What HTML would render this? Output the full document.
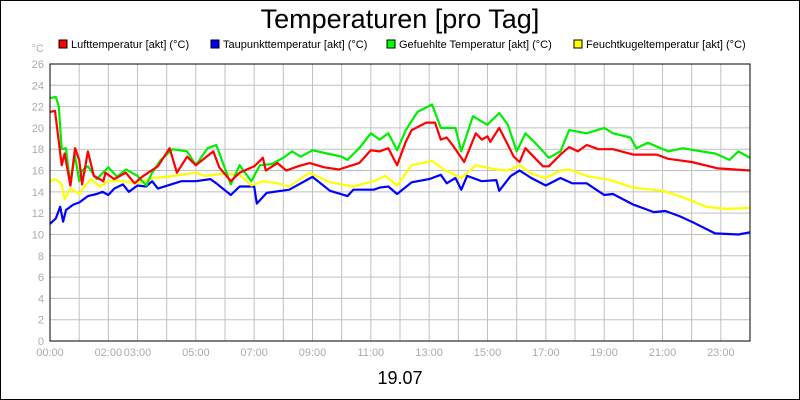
<!DOCTYPE html>
<html><head><meta charset="utf-8"><style>
body{margin:0;background:#fff}
svg{display:block;font-family:"Liberation Sans",sans-serif}
</style></head><body>
<svg id="chart" width="800" height="400" viewBox="0 0 800 400">
<rect x="0.5" y="0.5" width="799" height="399" fill="#fff" stroke="#000"/>
<text x="400" y="28" font-size="27" text-anchor="middle">Temperaturen [pro Tag]</text>
<g font-size="11">
<g><rect x="59" y="40" width="8" height="8" fill="#f00" stroke="#000"/><text x="71" y="48">Lufttemperatur [akt] (°C)</text></g>
<g><rect x="211" y="40" width="8" height="8" fill="#00f" stroke="#000"/><text x="223" y="48">Taupunkttemperatur [akt] (°C)</text></g>
<g><rect x="387" y="40" width="8" height="8" fill="#0f0" stroke="#000"/><text x="399" y="48">Gefuehlte Temperatur [akt] (°C)</text></g>
<g><rect x="574" y="40" width="8" height="8" fill="#ff0" stroke="#000"/><text x="586" y="48">Feuchtkugeltemperatur [akt] (°C)</text></g>
</g>
<text x="44" y="52" font-size="11" fill="#aaa" text-anchor="end">°C</text>
<g id="grid"></g>
<g id="yticks" font-size="11" fill="#aaa" text-anchor="end"></g>
<g id="xticks" font-size="11" fill="#aaa" text-anchor="middle"></g>
<g id="series"></g>
<rect x="50" y="64" width="700" height="277" fill="none" stroke="#000"/>
<text x="400" y="384" font-size="18" text-anchor="middle">19.07</text>
</svg>
<script>
const yTicks=[0,2,4,6,8,10,12,14,16,18,20,22,24,26];
const xTickHours=[0,2,3,5,7,9,11,13,15,17,19,21,23];
const xTickLabels=["00:00","02:00","03:00","05:00","07:00","09:00","11:00","13:00","15:00","17:00","19:00","21:00","23:00"];
const redTimes=[0,0.17,0.4,0.5,0.7,0.86,1.0,1.1,1.3,1.5,1.83,1.9,2.2,2.6,2.9,3.2,3.7,4.1,4.35,4.7,5.0,5.6,5.8,6.2,6.5,7.0,7.3,7.4,7.8,8.1,8.5,8.9,9.4,9.9,10.6,11.0,11.3,11.6,11.9,12.2,12.4,12.9,13.2,13.4,13.6,13.8,14.2,14.6,14.8,15.0,15.1,15.4,15.7,15.9,16.1,16.3,16.9,17.1,17.5,17.8,18.1,18.4,18.8,19.3,20.0,20.8,21.2,22.0,22.9,24];
const redValues=[21.5,21.6,16.5,17.6,14.6,18.1,17,14.7,17.8,15.5,15,15.8,15.2,15.8,14.8,15.5,16.4,18.1,15.8,17.3,16.5,17.8,16.3,15,15.8,16.4,17.2,16,16.7,16,16.4,16.7,16.3,16.1,16.7,17.9,17.8,18.1,16.5,18.7,19.8,20.5,20.5,18.9,19.1,18.4,16.8,19.5,18.9,19.2,18.7,20.0,18.4,17.3,16.8,18.1,16.4,16.4,17.5,18.2,17.8,18.4,18.0,18.0,17.5,17.5,17.1,16.8,16.2,16.0];
const blueTimes=[0,0.2,0.35,0.45,0.55,0.8,1.0,1.3,1.6,1.8,2.0,2.2,2.5,2.7,3.0,3.3,3.5,3.7,4.5,5.0,5.5,5.7,6.2,6.5,7.0,7.09,7.43,8.2,9.0,9.6,10.2,10.4,11.1,11.3,11.6,11.9,12.4,13.0,13.4,13.6,13.9,14.1,14.3,14.8,15.3,15.4,15.8,16.1,16.5,17.0,17.5,17.9,18.4,19.0,19.3,20.0,20.7,21.1,21.6,22.0,22.8,23.6,24];
const blueValues=[11.0,11.5,12.6,11.2,12.3,12.8,13.0,13.6,13.8,14,13.7,14.3,14.7,14.0,14.6,14.5,15,14.3,15,15,15.2,14.8,13.7,14.5,14.5,12.9,13.9,14.2,15.4,14.1,13.6,14.2,14.2,14.4,14.5,13.8,14.9,15.2,15.6,14.8,15.3,14.2,15.5,15.0,15.1,14.1,15.5,16.0,15.3,14.6,15.3,14.8,14.8,13.7,13.8,12.8,12.1,12.2,11.7,11.2,10.1,10.0,10.2];
const greenTimes=[0,0.2,0.3,0.4,0.55,0.7,0.85,1.0,1.1,1.3,1.6,2.0,2.3,2.6,3.0,3.3,3.5,3.8,4.2,4.7,5.0,5.4,5.7,6.2,6.5,6.9,7.2,7.6,8.0,8.3,8.6,9.0,9.5,10.0,10.2,10.6,11.0,11.3,11.6,11.9,12.2,12.6,13.1,13.4,13.9,14.1,14.5,14.8,15.0,15.4,15.7,16.0,16.3,16.6,17.1,17.5,17.8,18.4,19.0,19.3,19.9,20.1,20.5,21.2,21.7,22.1,22.8,23.3,23.6,24];
const greenValues=[22.8,22.9,22,18,18.1,14.6,17.5,15,16,16.4,15.2,16.3,15.4,16.1,15.5,14.6,15.8,17,18.0,17.8,16.5,18.1,18.4,14.7,16.5,15.0,16.5,16.6,17.2,17.8,17.3,17.9,17.6,17.3,17.0,18.1,19.5,18.9,19.5,17.9,19.8,21.5,22.2,20.0,20.0,17.8,21.1,20.6,20.3,21.4,20.3,17.8,19.5,18.7,17.2,17.8,19.8,19.5,20.0,19.5,19.1,18.1,18.6,17.8,18.1,17.9,17.6,17.0,17.8,17.2];
const yellowTimes=[0,0.2,0.4,0.5,0.7,1.0,1.1,1.4,1.7,2.0,2.5,3.0,3.5,4.0,4.5,5.0,5.3,6.0,6.5,6.9,7.3,7.8,8.2,8.9,9.6,10.4,11.1,11.5,11.9,12.4,13.1,13.5,14.1,14.6,15.3,15.7,16.1,16.5,17.0,17.5,17.8,18.4,19.2,20.0,21.0,21.8,22.5,23.2,24];
const yellowValues=[15.0,15.2,14.7,13.3,14.3,13.8,14.2,15.2,14.5,15,15.0,14.8,15.3,15.4,15.6,15.8,15.5,15.7,15.6,14.6,15,14.8,14.5,15.8,14.9,14.5,15.0,15.5,14.6,16.5,16.9,16.1,15.3,16.5,16.1,16.0,16.5,15.7,15.3,16.0,16.1,15.5,15.1,14.4,14.1,13.4,12.6,12.4,12.5];
const seriesList=[
 {name:"series-taupunkt",t:blueTimes,v:blueValues,c:"#0000ff"},
 {name:"series-feuchtkugel",t:yellowTimes,v:yellowValues,c:"#ffff00"},
 {name:"series-gefuehlt",t:greenTimes,v:greenValues,c:"#00ee00"},
 {name:"series-luft",t:redTimes,v:redValues,c:"#ff0000"}];
const NS="http://www.w3.org/2000/svg";
const x0=50,x1=750,y0=341,y1=64;
function xs(t){return x0+t/24*(x1-x0);}
function ys(v){return y0-v/26*(y0-y1);}
const grid=document.getElementById('grid');
for(let h=1;h<24;h++){const l=document.createElementNS(NS,'line');


l.setAttribute('x1',xs(h));l.setAttribute('x2',xs(h));l.setAttribute('y1',y1);l.setAttribute('y2',y0);l.setAttribute('stroke','#c0c0c0');grid.appendChild(l);}
const yt=document.getElementById('yticks');
yTicks.forEach(v=>{const l=document.createElementNS(NS,'line');


l.setAttribute('x1',x0);l.setAttribute('x2',x1);l.setAttribute('y1',ys(v));l.setAttribute('y2',ys(v));l.setAttribute('stroke','#c0c0c0');grid.appendChild(l);
const tx=document.createElementNS(NS,'text');


tx.setAttribute('x',44);tx.setAttribute('y',ys(v)+4);tx.textContent=v;yt.appendChild(tx);});
const xt=document.getElementById('xticks');
xTickHours.forEach((h,i)=>{const tx=document.createElementNS(NS,'text');


tx.setAttribute('x',xs(h));tx.setAttribute('y',356);tx.textContent=xTickLabels[i];xt.appendChild(tx);});
const sg=document.getElementById('series');
seriesList.forEach(s=>{const p=document.createElementNS(NS,'polyline');


p.setAttribute('points',s.t.map((t,i)=>xs(t).toFixed(1)+','+ys(s.v[i]).toFixed(1)).join(' '));
p.setAttribute('fill','none');p.setAttribute('stroke',s.c);p.setAttribute('stroke-width','2.2');p.setAttribute('stroke-linejoin','round');sg.appendChild(p);});
</script>
</body></html>
